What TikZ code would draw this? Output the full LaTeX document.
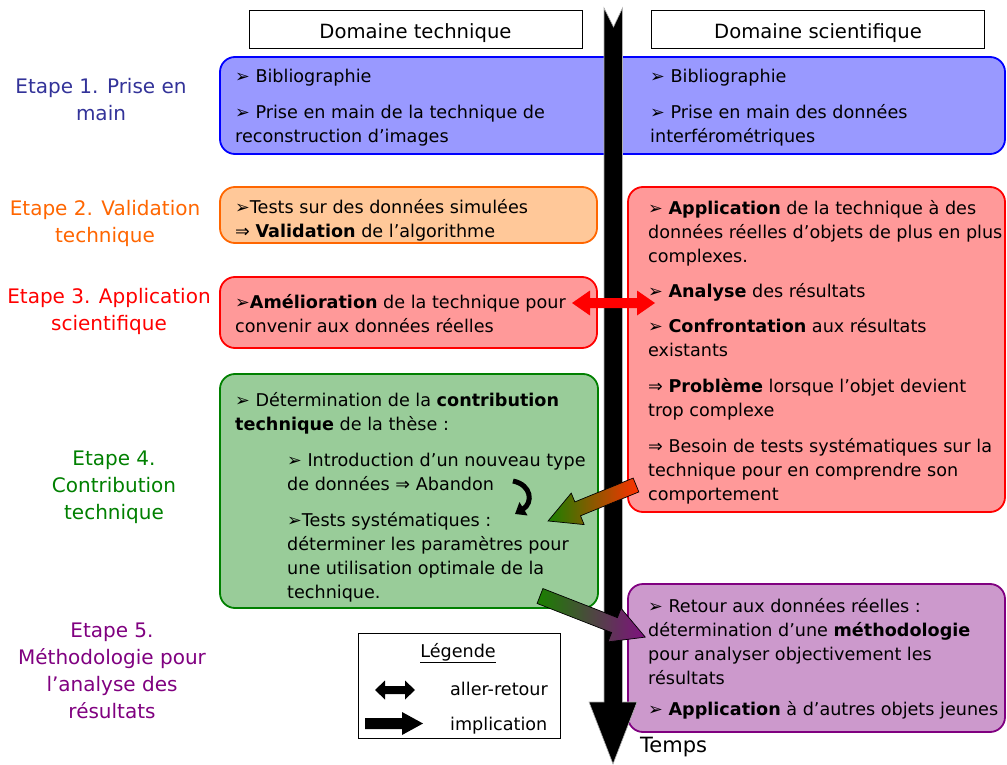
\documentclass[tikz,border=0pt]{standalone}
\usepackage{fontspec}
\setmainfont{DejaVu Sans}
\usetikzlibrary{arrows.meta}
\definecolor{bluefill}{HTML}{9999FF}
\definecolor{blueline}{HTML}{0000FF}
\definecolor{orfill}{HTML}{FFC899}
\definecolor{orline}{HTML}{FF6600}
\definecolor{redfill}{HTML}{FF9999}
\definecolor{redline}{HTML}{FF0000}
\definecolor{grfill}{HTML}{99CC99}
\definecolor{grline}{HTML}{008000}
\definecolor{pufill}{HTML}{CC99CC}
\definecolor{puline}{HTML}{800080}
\definecolor{st1}{HTML}{333399}
\definecolor{st2}{HTML}{FF6600}
\definecolor{st3}{HTML}{FF0000}
\definecolor{st4}{HTML}{008000}
\definecolor{st5}{HTML}{800080}
\definecolor{arrred}{HTML}{FF3000}
\definecolor{arrgreen}{HTML}{1A8000}
\definecolor{arrpurple}{HTML}{801080}
\newcommand\bodyfont{\fontsize{17.6}{24}\selectfont}
\newcommand\stagefont{\fontsize{20}{27}\selectfont}
\tikzset{
  phase/.style={rounded corners=15pt, line width=1.8pt},
  txt/.style={anchor=north west, inner sep=0pt, align=left, font=\bodyfont},
  stage/.style={anchor=north, inner sep=0pt, align=center, font=\stagefont},
  hdr/.style={draw=black, line width=0.8pt, minimum width=333pt, minimum height=38pt, inner sep=0pt},
  grad/.style={draw=black, line width=0.7pt},
}
\begin{document}
\begin{tikzpicture}[x=1pt,y=-1pt]
\useasboundingbox[fill=white] (0,0) rectangle (1007,765);

% headers
\node[hdr] (hL) at (415.5,29) {};
\node[hdr] (hR) at (818,29) {};
\node[anchor=base, inner sep=0pt, font=\fontsize{19.6}{24}\selectfont] (hLt) at (hL.center |- 0,39) {Domaine technique};
\node[anchor=base, inner sep=0pt, font=\fontsize{19.6}{24}\selectfont] (hRt) at (hR.center |- 0,39) {Domaine scientifique};

% phase boxes
\draw[phase, fill=bluefill, draw=blueline] (220,57) rectangle (1005,154);
\draw[phase, fill=orfill, draw=orline] (220,187) rectangle (597,243);
\draw[phase, fill=redfill, draw=redline] (220,277) rectangle (597,348);
\draw[phase, fill=redfill, draw=redline] (628,187) rectangle (1005,512);
\draw[phase, fill=grfill, draw=grline] (220,374) rectangle (598,608);
\draw[phase, fill=pufill, draw=puline] (628,584) rectangle (1005,732);

% time arrow
\fill[black, draw=gray!60, line width=0.6pt] (604,8) -- (613.5,27) -- (622.5,8) -- (622.5,702) -- (637,702) -- (613,764) -- (589,702) -- (604,702) -- cycle;
\node[anchor=base west, inner sep=0pt, font=\fontsize{21}{26}\selectfont] (temps) at (640,752) {Temps};

% stage labels
\node[stage, text=st1] (s1) at (101,78.5) {Etape 1. Prise en\\main};
\node[stage, text=st2] (s2) at (105,200.5) {Etape 2. Validation\\technique};
\node[stage, text=st3] (s3) at (109,288.5) {Etape 3. Application\\scientifique};
\node[stage, text=st4] (s4) at (114,450.5) {Etape 4.\\Contribution\\technique};
\node[stage, text=st5] (s5) at (112,622.5) {Etape 5.\\Méthodologie pour\\l’analyse des\\résultats};

% blue box text
\node[txt] (b1) at (235,65.2) {\strut➢ Bibliographie};
\node[txt] (b2) at (235,101.2) {\strut➢ Prise en main de la technique de\\reconstruction d’images};
\node[txt] (b3) at (650,65.2) {\strut➢ Bibliographie};
\node[txt] (b4) at (650,101.2) {\strut➢ Prise en main des données\\interférométriques};

% orange box text
\node[txt] (o1) at (235,196.2) {\strut➢Tests sur des données simulées\\⇒ \textbf{Validation} de l’algorithme};

% red left text
\node[txt] (r1) at (235,291.2) {\strut➢\textbf{Amélioration} de la technique pour\\convenir aux données réelles};

% red right text
\node[txt] (r2) at (648,197.5) {\strut➢ \textbf{Application} de la technique à des\\données réelles d’objets de plus en plus\\complexes.};
\node[txt] (r3) at (648,280.5) {\strut➢ \textbf{Analyse} des résultats};
\node[txt] (r4) at (648,315.5) {\strut➢ \textbf{Confrontation} aux résultats\\existants};
\node[txt] (r5) at (648,375.5) {\strut⇒ \textbf{Problème} lorsque l’objet devient\\trop complexe};
\node[txt] (r6) at (648,435.5) {\strut⇒ Besoin de tests systématiques sur la\\technique pour en comprendre son\\comportement};

% green text
\node[txt] (g1) at (235,389) {\strut➢ Détermination de la \textbf{contribution}\\\textbf{technique} de la thèse :};
\node[txt] (g2) at (287,449) {\strut➢ Introduction d’un nouveau type\\de données ⇒ Abandon};
\node[txt] (g3) at (287,509) {\strut➢Tests systématiques :\\déterminer les paramètres pour\\une utilisation optimale de la\\technique.};

% purple text
\node[txt] (p1) at (648,595.2) {\strut➢ Retour aux données réelles :\\détermination d’une \textbf{méthodologie}\\pour analyser objectivement les\\résultats};
\node[txt] (p2) at (648,698.2) {\strut➢ \textbf{Application} à d’autres objets jeunes};

% red double arrow (aller-retour)
\fill[redline] (572,303) -- (590,290.5) -- (590,298) -- (637,298) -- (637,290.5) -- (655,303) -- (637,315.5) -- (637,308) -- (590,308) -- (590,315.5) -- cycle;

% curved arrow (Abandon)
\coordinate (cA) at (513,481);
\coordinate (cB) at (515,514);
\draw[line width=5pt, -{Triangle[width=15pt,length=10pt]}] (cA) .. controls (532,485) and (533,503) .. (cB);

% gradient arrows (implication)
\coordinate (t1) at (636,485);
\coordinate (t2) at (540,596);
\begin{scope}[shift={(t1)}, rotate=202.25]
\shade[grad, left color=arrgreen, right color=arrred] (0,7.5) -- (63,7.5) -- (63,17) -- (95,0) -- (63,-17) -- (63,-7.5) -- (0,-7.5) -- cycle;
\end{scope}
\begin{scope}[shift={(t2)}, rotate=-21.33]
\shade[grad, left color=arrgreen, right color=arrpurple] (0,8) -- (80,8) -- (80,18) -- (113,0) -- (80,-18) -- (80,-8) -- (0,-8) -- cycle;
\end{scope}

% legend
\node[draw=black, line width=0.8pt, minimum width=202pt, minimum height=105pt, inner sep=0pt, fill=white] (leg) at (459,685.5) {};
\node[anchor=base, inner sep=0pt, font=\bodyfont] (legt) at (458,657) {\underline{Légende}};
\fill[black] (375,690) -- (385,680.5) -- (385,686) -- (405,686) -- (405,680.5) -- (415,690) -- (405,699.5) -- (405,694) -- (385,694) -- (385,699.5) -- cycle;
\fill[black] (365,718) -- (402,718) -- (402,712) -- (423,723.5) -- (402,735) -- (402,729) -- (365,729) -- cycle;
\node[anchor=base west, inner sep=0pt, font=\bodyfont] (l1) at (450,695) {aller-retour};
\node[anchor=base west, inner sep=0pt, font=\bodyfont] (l2) at (450,730) {implication};
\end{tikzpicture}
\end{document}
